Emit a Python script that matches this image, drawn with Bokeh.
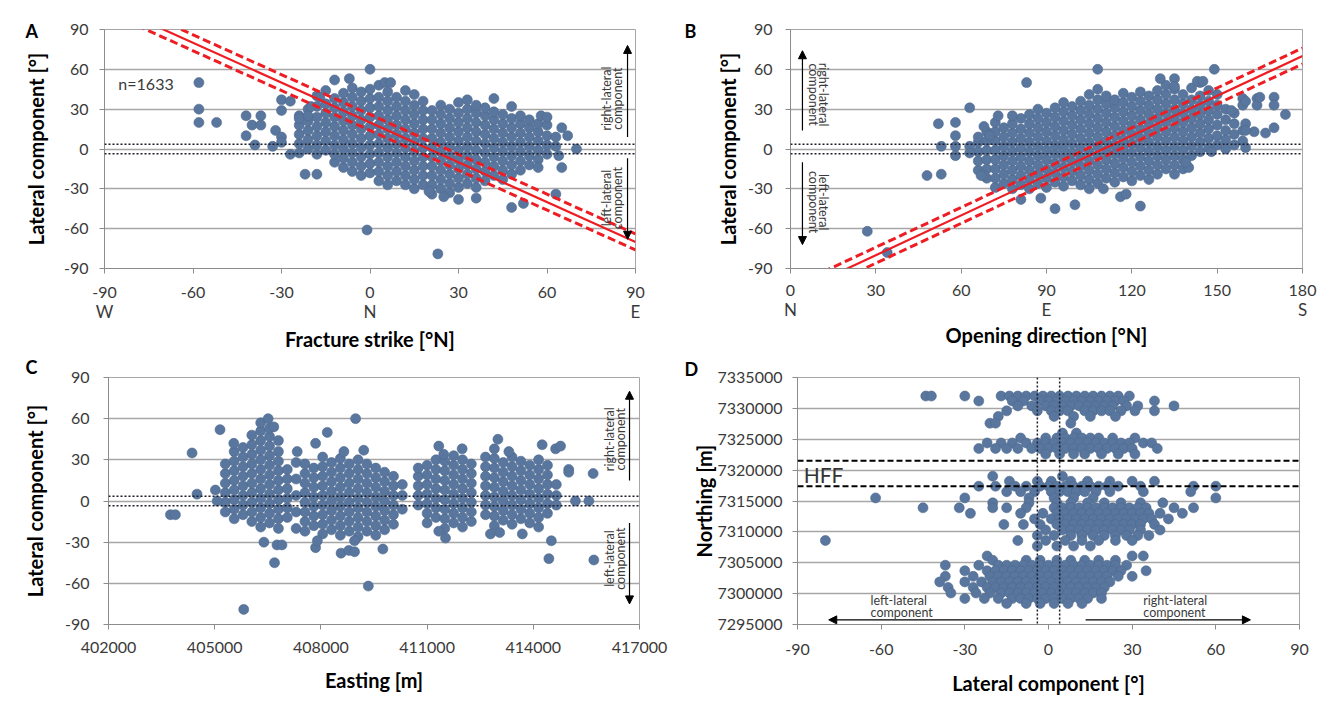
import math
from bokeh.plotting import figure
from bokeh.models import (FixedTicker, PrintfTickFormatter, Label, Arrow, NormalHead, Span,
                          Range1d, LinearAxis)
from bokeh.layouts import column, row
from bokeh.embed import file_html
from bokeh.resources import INLINE

# ---------------- Panel A: fracture strike vs lateral component ----------------
a_col_x = [-24, -21, -18, -15, -12, -9, -6, -3, 0, 3, 6, 9, 12, 15, 18, 21, 24, 27, 30,
           33, 36, 39, 42, 45, 48, 51, 54, 57, 60, 63]
a_col_y = [
    [-3, 4, 11, 18, 25],
    [0, 7, 14, 21, 30],
    [-4, 3, 10, 17, 24, 32, 40],
    [-1, 6, 13, 20, 27, 34, 44],
    [-10, -4, 3, 10, 17, 24, 31, 38],
    [-14, -7, 0, 7, 14, 21, 28, 35, 42],
    [-17, -10, -3, 4, 11, 18, 25, 32, 39, 46],
    [-20, -13, -6, 1, 8, 15, 22, 29, 36, 43],
    [-18, -11, -4, 3, 10, 17, 24, 31, 38, 45],
    [-24, -17, -10, -3, 4, 11, 18, 25, 32, 39, 48],
    [-27, -20, -13, -6, 1, 8, 15, 22, 29, 36, 43],
    [-24, -17, -10, -3, 4, 11, 18, 25, 32, 39],
    [-27, -20, -13, -6, 1, 8, 15, 22, 29, 36, 44],
    [-30, -23, -16, -9, -2, 5, 12, 19, 26, 33, 41],
    [-27, -20, -13, -6, 1, 8, 15, 22, 29, 36],
    [-34, -27, -20, -13, -6, 1, 8, 15, 22, 29],
    [-30, -23, -16, -9, -2, 5, 12, 19, 26, 33],
    [-33, -26, -19, -12, -5, 2, 9, 16, 23, 30],
    [-29, -22, -15, -8, -1, 6, 13, 20, 27, 35],
    [-26, -19, -12, -5, 2, 9, 16, 23, 30, 37],
    [-29, -22, -15, -8, -1, 6, 13, 20, 27, 33],
    [-24, -17, -10, -3, 4, 11, 18, 25, 31],
    [-20, -13, -6, 1, 8, 15, 22, 28],
    [-23, -16, -9, -2, 5, 12, 19, 26],
    [-19, -12, -5, 2, 9, 16, 23],
    [-16, -9, -2, 5, 12, 19, 25],
    [-12, -5, 2, 9, 16, 22],
    [-8, -1, 6, 13, 19],
    [-4, 3, 10, 18],
    [2, 9],
]
a_out_x = [-58, -58, -58, -52, -42, -42, -40, -37, -37, -39, -32, -30, -30, -33, -27, -30,
           -30, -27, -22, -18, -24, -21, -20, -17, -12, -7, 0, 5, 7, -1, 23, 42, 48, 58,
           60, 65, 67, 70, 65, 63, 52, 48, 36, 30, 25, 20, 64, 57]
a_out_y = [50, 30, 20, 20, 25, 10, 18, 18, 25, 3, 14, 9, 5, 2, -4, 29,
           37, 36, -19, -19, 23, 25, 32, 39, 52, 53, 60, 50, 50, -61, -79, 38, 32, 25,
           24, 16, 10, 0, -14, -34, -41, -44, -37, -38, -36, -32, -5, -14]
a_fit_x = [-90, 90]
a_fit_mid = [110, -70]
a_fit_hi = [116, -64]
a_fit_lo = [104, -76]

# ---------------- Panel B: opening direction vs lateral component ----------------
b_col_x = [66, 69, 72, 75, 78, 81, 84, 87, 90, 93, 96, 99, 102, 105, 108, 111, 114, 117,
           120, 123, 126, 129, 132, 135, 138, 141, 144, 147, 150, 153, 156, 159]
b_col_y = [
    [-16, -9, -2, 5],
    [-22, -15, -8, -1, 6, 13],
    [-29, -22, -15, -8, -1, 6, 13, 20],
    [-26, -19, -12, -5, 2, 9, 16],
    [-30, -23, -16, -9, -2, 5, 12, 19],
    [-27, -20, -13, -6, 1, 8, 15, 23],
    [-30, -23, -16, -9, -2, 5, 12, 19, 26],
    [-26, -19, -12, -5, 2, 9, 16, 23, 30],
    [-29, -22, -15, -8, -1, 6, 13, 20, 27],
    [-25, -18, -11, -4, 3, 10, 17, 24, 31],
    [-28, -21, -14, -7, 0, 7, 14, 21, 28, 35],
    [-24, -17, -10, -3, 4, 11, 18, 25, 32],
    [-27, -20, -13, -6, 1, 8, 15, 22, 29, 36],
    [-23, -16, -9, -2, 5, 12, 19, 26, 33, 41],
    [-26, -19, -12, -5, 2, 9, 16, 23, 30, 37, 45],
    [-22, -15, -8, -1, 6, 13, 20, 27, 34, 40],
    [-25, -18, -11, -4, 3, 10, 17, 24, 31, 37],
    [-21, -14, -7, 0, 7, 14, 21, 28, 35, 42],
    [-24, -17, -10, -3, 4, 11, 18, 25, 32, 39],
    [-20, -13, -6, 1, 8, 15, 22, 29, 36, 43],
    [-23, -16, -9, -2, 5, 12, 19, 26, 33, 40],
    [-19, -12, -5, 2, 9, 16, 23, 30, 37, 44],
    [-15, -8, -1, 6, 13, 20, 27, 34, 41, 48],
    [-19, -12, -5, 2, 9, 16, 23, 30, 37, 45],
    [-15, -8, -1, 6, 13, 20, 27, 34, 41],
    [-5, 2, 9, 16, 23, 30, 37, 46],
    [-2, 5, 12, 19, 26, 33, 40, 50],
    [1, 8, 15, 22, 29, 36, 44],
    [3, 10, 18, 26, 33, 41],
    [0, 7, 14, 22, 30],
    [3, 11, 19, 27],
    [6, 14],
]
b_out_x = [27, 34, 48, 53, 52, 58, 58, 53, 58, 58, 63, 63, 63, 66, 68, 68, 73, 78, 70, 83,
           108, 149, 130, 135, 135, 143, 145, 159, 164, 159, 164, 155, 160, 165, 170, 170,
           174, 170, 167, 163, 160, 160, 160, 148, 140, 93, 100, 116, 118, 123, 105, 110,
           88, 81, 139, 67]
b_out_y = [-62, -78, -20, -19, 19, 20, 10, 2, 2, -5, 31, 2, -3, 9, 17, -20, 25, 25, 10, 50,
           60, 60, 53, 53, 47, 51, 51, 38, 38, 33, 33, 29, 36, 39, 39, 33,
           26, 16, 12, 13, 19, 14, 1, -2, -14, -45, -42, -36, -34, -43, -30, -30,
           -37, -38, -10, -20]
b_fit_x = [0, 180]
b_fit_mid = [-110, 70]
b_fit_hi = [-104, 76]
b_fit_lo = [-116, 64]

# ---------------- Panel C: easting vs lateral component ----------------
c_col_x = [405300, 405550, 405800, 406050, 406300, 406550, 406800, 407050, 407300, 407550,
           407800, 408050, 408300, 408550, 408800, 409050, 409300, 409550, 409800, 410050,
           410300, 410750, 411000, 411250, 411500, 411750, 412000, 412250, 412650, 412900,
           413150, 413400, 413650, 413900, 414150, 414400, 414650]
c_col_y = [
    [-8, -1, 6, 13, 20, 27],
    [-13, -6, 1, 8, 15, 22, 29, 36],
    [-10, -3, 4, 11, 18, 25, 32, 39],
    [-15, -8, -1, 6, 13, 20, 27, 34, 41, 48],
    [-19, -12, -5, 2, 9, 16, 23, 30, 37, 44, 51, 57],
    [-16, -9, -2, 5, 12, 19, 26, 33, 40, 47, 53],
    [-20, -13, -6, 1, 8, 15, 22, 29, 36, 44],
    [-12, -5, 2, 9, 16, 23],
    [-20, -8, 4, 16, 28],
    [-22, -15, -8, -1, 6, 13, 20, 27],
    [-18, -11, -4, 3, 10, 17, 24],
    [-24, -17, -10, -3, 4, 11, 18, 25, 32],
    [-21, -14, -7, 0, 7, 14, 21, 28],
    [-25, -18, -11, -4, 3, 10, 17, 24, 31],
    [-22, -15, -8, -1, 6, 13, 20, 27],
    [-26, -19, -12, -5, 2, 9, 16, 23, 30],
    [-22, -15, -8, -1, 6, 13, 20, 27],
    [-25, -18, -11, -4, 3, 10, 17, 24],
    [-21, -14, -7, 0, 7, 14, 21],
    [-17, -10, -3, 4, 11, 18],
    [-6, 4, 12],
    [-3, 4, 11, 18, 24],
    [-16, -9, -2, 5, 12, 19, 26],
    [-12, -5, 2, 9, 16, 23, 30],
    [-20, -13, -6, 1, 8, 15, 22, 29],
    [-16, -9, -2, 5, 12, 19, 26, 33],
    [-19, -12, -5, 2, 9, 16, 23, 30],
    [-15, -8, -1, 6, 13, 20, 27],
    [-10, -3, 4, 11, 18, 25, 32],
    [-18, -11, -4, 3, 10, 17, 24, 31, 38],
    [-14, -7, 0, 7, 14, 21, 28],
    [-17, -10, -3, 4, 11, 18, 25, 32],
    [-13, -6, 1, 8, 15, 22, 29],
    [-16, -9, -2, 5, 12, 19, 26],
    [-19, -12, -5, 2, 9, 16, 23, 30],
    [-9, -2, 5, 12, 19, 26],
    [-3, 4, 12],
]
c_out_x = [403750, 403890, 404360, 404500, 405020, 405070, 405150, 405540, 406510, 406670,
           406390, 406690, 406760, 406900, 405820, 407850, 408180, 407330, 408980, 408650,
           409210, 407850, 407900, 408570, 408790, 408950, 408950, 409750, 409340, 411330,
           411470, 411990, 413000, 413310, 414250, 414630, 414770, 415000, 415000, 415690,
           415190, 415570, 415710, 414440, 414510, 413690, 411520, 411330, 412790, 413050]
c_out_y = [-10, -10, 35, 5, 8, 0, 52, 42, 60, 54,
           -30, -45, -32, -32, -79, 42, 50, 36, 60, 36,
           37, -34, -29, -38, -36, -37, -29, -35, -62, 40,
           34, 38, 45, 36, 41, 38, 40, 23, 21, 20,
           0, 0, -43, -42, -29, -24, -27, -22, -24, -23]

# ---------------- Panel D: lateral component vs northing ----------------
d_row_north = [7332000, 7331200, 7330400, 7329600, 7328700, 7327600,
               7326000, 7325200, 7324400, 7323500, 7322600,
               7319000, 7318200, 7317400, 7316500, 7315500,
               7314700, 7313900, 7313000, 7312100, 7311200, 7310300, 7309400, 7308600, 7307700,
               7306100, 7305400, 7304600, 7303700, 7302800, 7301900, 7301000, 7300100, 7299200,
               7298400]
d_row_lat = [
    [-44, -42, -30, -17, -14, -11, -8, -5, -2, 1, 4, 7, 10, 13, 16, 19, 22, 25, 29],
    [-25, -13, -9, -3, 0, 3, 6, 9, 12, 15, 18, 21, 24, 27, 38],
    [-11, -6, -1, 2, 5, 8, 11, 14, 17, 20, 23, 28, 32, 45],
    [-15, -4, 1, 4, 7, 13, 16, 19, 22, 26, 31, 38],
    [-18, 2, 9, 15, 24],
    [-21, -19, 8],
    [5, 10],
    [-10, -1, 3, 6, 9, 12, 15, 18, 23, 31],
    [-22, -17, -13, -8, -4, -1, 2, 5, 8, 11, 14, 17, 20, 23, 26, 29, 34, 37],
    [-25, -19, -15, -11, -6, -3, 0, 3, 6, 9, 12, 15, 18, 21, 24, 27, 30, 39],
    [-1, 4, 9, 13, 19, 25, 31],
    [-20, 5],
    [-14, -4, 1, 8, 14, 22, 30, 38],
    [-25, -19, -12, -8, -3, 0, 3, 6, 9, 12, 15, 18, 21, 25, 33, 52, 60],
    [-15, -10, -5, 1, 4, 7, 10, 13, 17, 22, 34, 51],
    [-62, -30, -7, 2, 9, 16, 60],
    [-20, -7, 3, 8, 14, 20, 26, 33, 41],
    [-45, -32, -20, -15, -8, 2, 5, 8, 11, 14, 17, 20, 23, 26, 29, 32, 35, 45, 52],
    [-28, -10, -2, 3, 6, 9, 12, 15, 18, 21, 24, 27, 30, 33, 36, 40, 48],
    [-5, 1, 4, 7, 10, 13, 16, 19, 22, 25, 28, 31, 34, 37, 43],
    [-16, -9, -3, 3, 6, 9, 12, 15, 18, 21, 24, 27, 30, 33, 38],
    [-1, 5, 8, 11, 14, 17, 20, 23, 26, 29, 33, 40],
    [-4, 2, 8, 12, 16, 20, 24, 28, 32, 36],
    [-80, -11, -1, 6, 12, 18, 24, 30],
    [-4, 3, 9, 15],
    [-22, 30, 34],
    [-20, -8, -3, 3, 8, 13, 18, 24],
    [-37, -25, -18, -15, -12, -9, -6, -3, 0, 3, 6, 9, 12, 15, 18, 21, 24, 28],
    [-30, -22, -19, -16, -13, -10, -7, -4, -1, 2, 5, 8, 11, 14, 17, 20, 23, 26, 35],
    [-37, -27, -21, -18, -15, -12, -9, -6, -3, 0, 3, 6, 9, 12, 15, 18, 21, 25, 30],
    [-39, -30, -24, -20, -17, -14, -11, -8, -5, -2, 1, 4, 7, 10, 13, 16, 19, 22],
    [-36, -27, -22, -19, -16, -13, -10, -7, -4, -1, 2, 5, 8, 11, 14, 17, 20],
    [-35, -26, -21, -17, -14, -11, -8, -5, -2, 1, 4, 7, 10, 13, 16, 19],
    [-30, -23, -18, -13, -10, -7, -4, -1, 2, 5, 8, 11, 14, 19],
    [-15, -8, -3, 2, 7, 12],
]
hff_north = [7317400, 7321500]

angle_ticks = [-90, -60, -30, 0, 30, 60, 90]
open_ticks = [0, 30, 60, 90, 120, 150, 180]
east_ticks = [402000, 405000, 408000, 411000, 414000, 417000]
north_ticks = [7295000, 7300000, 7305000, 7310000, 7315000, 7320000, 7325000, 7330000, 7335000]
strike_dir_ticks = [-90, 0, 90]
strike_dir_names = ["W", "N", "E"]
open_dir_ticks = [0, 90, 180]
open_dir_names = ["N", "E", "S"]

FONT = "Lato"
DOT = "#58769e"
DOT_LINE = "#50698d"
GRID = "#a6a6a6"
AXIS = "#8c8c8c"
TXT = "#3a3a3a"
RED = "#ee1d23"


def flatten(keys, nested):
    a, b = [], []
    for k, vals in zip(keys, nested):
        for v in vals:
            a.append(k)
            b.append(v)
    return a, b


def style_axis(ax, size=16):
    ax.axis_line_color = AXIS
    ax.major_tick_line_color = AXIS
    ax.major_tick_out = 5
    ax.major_tick_in = 0
    ax.minor_tick_line_color = None
    ax.major_label_text_font = FONT
    ax.major_label_text_font_size = f"{size}px"
    ax.major_label_text_color = TXT
    ax.axis_label_text_font = FONT
    ax.axis_label_text_font_style = "bold"
    ax.axis_label_text_font_size = "20px"
    ax.axis_label_text_color = "black"


def make_fig(w, h, bl, br, bt, bb, xr, yr, xticks, yticks, letter, letter_offset, letter_standoff):
    p = figure(width=w, height=h, x_range=Range1d(*xr), y_range=Range1d(*yr),
               output_backend="svg", toolbar_location=None,
               min_border_left=bl, min_border_right=br, min_border_top=bt, min_border_bottom=bb)
    p.outline_line_color = GRID
    p.outline_line_width = 1
    p.background_fill_color = "white"
    p.border_fill_color = "white"
    p.xgrid.visible = False
    p.ygrid.grid_line_color = GRID
    p.ygrid.grid_line_width = 1.3
    p.xaxis.ticker = FixedTicker(ticks=xticks)
    p.yaxis.ticker = FixedTicker(ticks=yticks)
    p.ygrid.ticker = FixedTicker(ticks=yticks)
    p.xaxis.formatter = PrintfTickFormatter(format="%d")
    p.yaxis.formatter = PrintfTickFormatter(format="%d")
    for ax in list(p.xaxis) + list(p.yaxis):
        style_axis(ax)
    p.title.text = letter
    p.title.align = "left"
    p.title.offset = letter_offset
    p.title.standoff = letter_standoff
    p.title.text_font = FONT
    p.title.text_font_size = "18px"
    p.title.text_font_style = "bold"
    p.title.text_color = "black"
    return p


def dir_axis(p, ticks, names, standoff, title, title_standoff):
    ax = LinearAxis(ticker=FixedTicker(ticks=ticks),
                    major_label_overrides={t: n for t, n in zip(ticks, names)})
    style_axis(ax, 17)
    ax.axis_line_color = None
    ax.major_tick_line_color = None
    ax.major_tick_out = 0
    ax.major_label_standoff = standoff
    ax.axis_label = title
    ax.axis_label_standoff = title_standoff
    p.add_layout(ax, "below")


def lab(p, x, y, text, size, color=TXT, bold=False, align="left", angle=0.0):
    p.add_layout(Label(x=x, y=y, text=text, text_font=FONT, text_font_size=f"{size}px",
                       text_color=color, text_font_style="bold" if bold else "normal",
                       text_align=align, text_baseline="middle", angle=angle))


def arrow(p, x0, y0, x1, y1):
    p.add_layout(Arrow(x_start=x0, y_start=y0, x_end=x1, y_end=y1, line_color="black",
                       line_width=1.2,
                       end=NormalHead(size=8, fill_color="black", line_color="black", line_width=1)))


def dots(p, xs, ys):
    p.scatter(xs, ys, size=10, fill_color=DOT, line_color=DOT_LINE, line_width=0.6)


def hdotted(p, y):
    p.add_layout(Span(location=y, dimension="width", line_color="#1c1c2a", line_width=1.5,
                      line_dash="2 2"))


def fit_lines(p, fx, mid, hi, lo):
    p.line(fx, hi, line_color=RED, line_width=3, line_dash="8 4")
    p.line(fx, lo, line_color=RED, line_width=3, line_dash="8 4")
    p.line(fx, mid, line_color=RED, line_width=2.2)


# ---------- A ----------
pA = make_fig(680, 353, 104, 45, 29, 84, (-90, 90), (-90, 90), angle_ticks, angle_ticks,
              "A", -79, -24)
pA.yaxis.axis_label = "Lateral component [°]"
pA.xaxis.major_label_standoff = 13
pA.yaxis.major_label_standoff = 11
pA.yaxis.axis_label_standoff = 13
dir_axis(pA, strike_dir_ticks, strike_dir_names, 0, "Fracture strike [°N]", 2)
ax_, ay_ = flatten(a_col_x, a_col_y)
dots(pA, ax_ + a_out_x, ay_ + a_out_y)
hdotted(pA, 3.5)
hdotted(pA, -3.5)
fit_lines(pA, a_fit_x, a_fit_mid, a_fit_hi, a_fit_lo)
lab(pA, -85.3, 49.5, "n=1633", 16)
lab(pA, 80.0, 38, "right-lateral", 12.5, align="center", angle=math.pi / 2)
lab(pA, 84.0, 38, "component", 12.5, align="center", angle=math.pi / 2)
lab(pA, 80.0, -37, "left-lateral", 12.5, align="center", angle=math.pi / 2)
lab(pA, 84.0, -37, "component", 12.5, align="center", angle=math.pi / 2)
arrow(pA, 87.3, 9, 87.3, 78)
arrow(pA, 87.3, -7, 87.3, -68)

# ---------- B ----------
pB = make_fig(659, 353, 110, 37, 26, 80, (0, 180), (-90, 90), open_ticks, angle_ticks,
              "B", -106, -24)
pB.yaxis.axis_label = "Lateral component [°]"
pB.xaxis.major_label_standoff = 11
pB.yaxis.major_label_standoff = 13
pB.yaxis.axis_label_standoff = 5
dir_axis(pB, open_dir_ticks, open_dir_names, 0, "Opening direction [°N]", 0)
bx_, by_ = flatten(b_col_x, b_col_y)
dots(pB, bx_ + b_out_x, by_ + b_out_y)
hdotted(pB, 3.5)
hdotted(pB, -3.5)
fit_lines(pB, b_fit_x, b_fit_mid, b_fit_hi, b_fit_lo)
lab(pB, 11.7, 41, "right-lateral", 12.5, align="center", angle=-math.pi / 2)
lab(pB, 8.0, 41, "component", 12.5, align="center", angle=-math.pi / 2)
lab(pB, 11.7, -40, "left-lateral", 12.5, align="center", angle=-math.pi / 2)
lab(pB, 8.0, -40, "component", 12.5, align="center", angle=-math.pi / 2)
arrow(pB, 4.2, 14, 4.2, 74)
arrow(pB, 4.2, -10, 4.2, -72)

# ---------- C ----------
pC = make_fig(680, 360, 108, 41, 24, 89, (402000, 417000), (-90, 90), east_ticks, angle_ticks,
              "C", -83, 0)
pC.xaxis.axis_label = "Easting [m]"
pC.yaxis.axis_label = "Lateral component [°]"
pC.xaxis.major_label_standoff = 12
pC.xaxis.axis_label_standoff = 12
pC.yaxis.major_label_standoff = 14
pC.yaxis.axis_label_standoff = 15
cx_, cy_ = flatten(c_col_x, c_col_y)
dots(pC, cx_ + c_out_x, cy_ + c_out_y)
hdotted(pC, 3.5)
hdotted(pC, -3.5)
lab(pC, 416160, 45, "right-lateral", 12.5, align="center", angle=math.pi / 2)
lab(pC, 416460, 45, "component", 12.5, align="center", angle=math.pi / 2)
lab(pC, 416160, -42, "left-lateral", 12.5, align="center", angle=math.pi / 2)
lab(pC, 416460, -42, "component", 12.5, align="center", angle=math.pi / 2)
arrow(pC, 416718, 15, 416718, 80)
arrow(pC, 416718, -16, 416718, -75)

# ---------- D ----------
pD = make_fig(659, 360, 117, 40, 21, 89, (-90, 90), (7295000, 7335000), angle_ticks, north_ticks,
              "D", -113, -4)
pD.xaxis.axis_label = "Lateral component [°]"
pD.yaxis.axis_label = "Northing [m]"
pD.xaxis.major_label_standoff = 14
pD.xaxis.axis_label_standoff = 13
pD.yaxis.major_label_standoff = 10
pD.yaxis.axis_label_standoff = -1
dn_, dl_ = flatten(d_row_north, d_row_lat)
dots(pD, dl_, dn_)
for h in hff_north:
    pD.add_layout(Span(location=h, dimension="width", line_color="black", line_width=2,
                       line_dash="6 3"))
for v in (-4, 4):
    pD.add_layout(Span(location=v, dimension="height", line_color="#1c1c2a", line_width=1.5,
                       line_dash="2 2"))
lab(pD, -87.8, 7319320, "HFF", 21, color="#333333")
lab(pD, -63.8, 7298840, "left-lateral", 12.5)
lab(pD, -63.8, 7296920, "component", 12.5)
lab(pD, 34.0, 7298950, "right-lateral", 12.5)
lab(pD, 34.0, 7296970, "component", 12.5)
arrow(pD, -9.4, 7295750, -78.8, 7295750)
arrow(pD, 13.3, 7295750, 72.4, 7295750)

layout = column(row(pA, pB), row(pC, pD))
html = file_html(layout, INLINE)
html = html.replace("<body>", '<body style="margin:0;padding:0;">', 1)
open("out.html", "w").write(html)
